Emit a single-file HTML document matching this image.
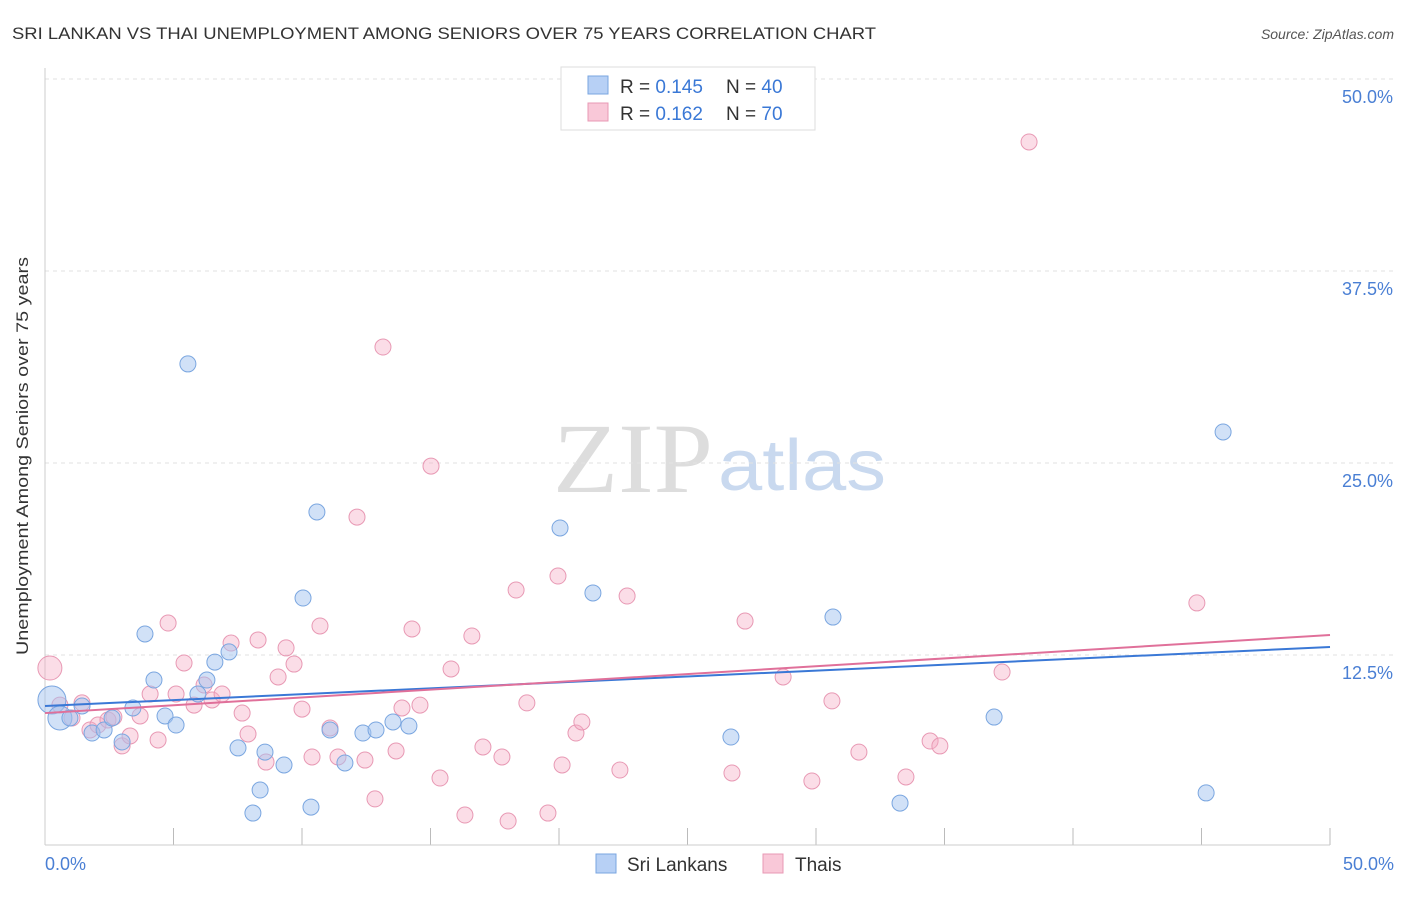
<!DOCTYPE html>
<html><head><meta charset="utf-8"><style>
body{margin:0;background:#fff;font-family:"Liberation Sans",sans-serif;}
</style></head><body>
<svg width="1406" height="892" xmlns="http://www.w3.org/2000/svg">
<text x="12" y="39" font-size="17" fill="#333" textLength="864" lengthAdjust="spacingAndGlyphs">SRI LANKAN VS THAI UNEMPLOYMENT AMONG SENIORS OVER 75 YEARS CORRELATION CHART</text>
<text x="1394" y="39" font-size="14" fill="#555" font-style="italic" text-anchor="end">Source: ZipAtlas.com</text>
<text x="553" y="492" font-size="100" fill="#ddd" font-family="Liberation Serif,serif" textLength="160" lengthAdjust="spacingAndGlyphs">ZIP</text>
<text x="718" y="490" font-size="72" fill="#c9d9ef" textLength="168" lengthAdjust="spacingAndGlyphs">atlas</text>
<g id="grid"></g>
<line x1="45" y1="68" x2="45" y2="845" stroke="#ccc"/>
<line x1="45" y1="845" x2="1330" y2="845" stroke="#ccc"/>
<text x="28" y="456" font-size="17" fill="#333" text-anchor="middle" textLength="398" lengthAdjust="spacingAndGlyphs" transform="rotate(-90 28 456)">Unemployment Among Seniors over 75 years</text>
<text x="45" y="870" font-size="18" fill="#4a7fd4">0.0%</text>
<text x="1394" y="870" font-size="18" fill="#4a7fd4" text-anchor="end">50.0%</text>
<g id="points"></g>
<g id="lines"></g>
<g>
<rect x="561" y="67" width="254" height="63" fill="#fff" stroke="#ddd"/>
<rect x="588" y="76" width="20" height="18" fill="#b7d0f5" stroke="#7aa6e0"/>
<text x="620" y="93" font-size="19" fill="#333">R = <tspan fill="#3a78d6">0.145</tspan></text>
<text x="726" y="93" font-size="19" fill="#333">N = <tspan fill="#3a78d6">40</tspan></text>
<rect x="588" y="103" width="20" height="18" fill="#f9c8d8" stroke="#e899b4"/>
<text x="620" y="120" font-size="19" fill="#333">R = <tspan fill="#3a78d6">0.162</tspan></text>
<text x="726" y="120" font-size="19" fill="#333">N = <tspan fill="#3a78d6">70</tspan></text>
</g>
<g>
<rect x="596" y="854" width="20" height="19" fill="#b7d0f5" stroke="#7aa6e0"/>
<text x="627" y="871" font-size="19" fill="#333">Sri Lankans</text>
<rect x="763" y="854" width="20" height="19" fill="#f9c8d8" stroke="#e899b4"/>
<text x="795" y="871" font-size="19" fill="#333">Thais</text>
</g>
</svg>
<script>
const yTicks=[12.5,25,37.5,50];
const yTickLabels=["12.5%","25.0%","37.5%","50.0%"];
const blueX=[0.27,0.58,0.97,1.44,1.83,2.30,2.61,3.00,3.42,3.89,4.24,4.67,5.10,5.56,5.95,6.30,6.61,7.16,7.51,8.09,8.37,8.56,9.30,10.35,10.04,10.58,11.09,11.67,12.37,12.88,13.54,14.16,20.04,21.32,26.69,30.66,33.27,36.93,45.18,45.84];
const blueY=[9.57,8.40,8.40,9.18,7.42,7.62,8.40,6.84,9.05,13.87,10.87,8.53,7.94,31.45,9.96,10.87,12.04,12.70,6.45,2.21,3.71,6.18,5.34,2.60,16.21,21.81,7.62,5.47,7.42,7.62,8.14,7.88,20.77,16.54,7.16,14.97,2.86,8.46,3.52,27.02];
const pinkX=[0.19,0.58,1.05,1.44,1.75,2.06,2.45,2.68,3.00,3.31,3.70,4.09,4.40,4.79,5.10,5.41,5.80,6.19,6.50,6.89,7.24,7.67,7.90,8.29,8.60,9.07,9.38,9.69,10.00,10.39,10.70,11.09,11.40,12.14,12.45,12.84,13.15,13.66,13.89,14.28,14.59,15.02,15.37,15.80,16.34,16.61,17.04,17.78,18.02,18.33,18.75,19.57,19.96,20.12,20.66,20.89,22.37,22.65,26.73,27.24,28.72,29.84,30.62,31.67,33.50,34.44,34.82,37.24,38.29,44.82];
const pinkY=[11.65,9.24,8.40,9.38,7.62,7.94,8.27,8.46,6.58,7.23,8.53,9.96,6.97,14.58,9.96,11.98,9.24,10.55,9.57,9.96,13.28,8.72,7.36,13.48,5.53,11.07,12.96,11.91,8.98,5.86,14.39,7.75,5.86,21.48,5.66,3.13,32.55,6.25,9.05,14.19,9.24,24.80,4.49,11.59,2.08,13.74,6.51,5.86,1.69,16.73,9.38,2.21,17.64,5.34,7.42,8.14,5.01,16.34,4.82,14.71,11.07,4.30,9.51,6.18,4.56,6.90,6.58,11.39,45.90,15.89];
const blueTrend=[9.18,13.02];
const pinkTrend=[8.72,13.80];
const NS="http://www.w3.org/2000/svg";
const sx=v=>45+v*25.7, sy=v=>847-v*15.36;
const grid=document.getElementById('grid');
yTicks.forEach((t,i)=>{
 const l=document.createElementNS(NS,'line');
 l.setAttribute('x1',45);l.setAttribute('x2',1394);l.setAttribute('y1',sy(t));l.setAttribute('y2',sy(t));
 l.setAttribute('stroke','#e2e2e2');l.setAttribute('stroke-dasharray','4 4');
 
 
 grid.appendChild(l);
 const tx=document.createElementNS(NS,'text');
 tx.setAttribute('x',1393);tx.setAttribute('y',sy(t)+24);tx.setAttribute('font-size','18');tx.setAttribute('fill','#4a7fd4');tx.setAttribute('text-anchor','end');
 tx.textContent=yTickLabels[i];
 
 
 grid.appendChild(tx);
});
for(let i=0;i<=10;i++){
 const l=document.createElementNS(NS,'line');
 const x=sx(i*5);
 l.setAttribute('x1',x);l.setAttribute('x2',x);l.setAttribute('y1',828);l.setAttribute('y2',845);l.setAttribute('stroke','#bbb');
 
 
 grid.appendChild(l);
}
const pts=document.getElementById('points');
function dot(x,y,r,fill,stroke,name){
 const c=document.createElementNS(NS,'circle');
 c.setAttribute('cx',sx(x));c.setAttribute('cy',sy(y));c.setAttribute('r',r);
 c.setAttribute('fill',fill);c.setAttribute('stroke',stroke);c.setAttribute('stroke-width','1');
 
 
 pts.appendChild(c);
}
pinkX.forEach((x,i)=>dot(x,pinkY[i],i===0?12:8,'rgba(245,170,195,0.4)','#e899b4','thai-point'));
blueX.forEach((x,i)=>dot(x,blueY[i],i===0?14:(i===1?12:8),'rgba(164,196,240,0.5)','#7aa6e0','sri-lankan-point'));
const ln=document.getElementById('lines');
[[blueTrend,'#3a78d6','sri-lankan-trendline'],[pinkTrend,'#e0709a','thai-trendline']].forEach(([t,c,n])=>{
 const l=document.createElementNS(NS,'line');
 l.setAttribute('x1',sx(0));l.setAttribute('x2',sx(50));l.setAttribute('y1',sy(t[0]));l.setAttribute('y2',sy(t[1]));
 l.setAttribute('stroke',c);l.setAttribute('stroke-width','2');
 
 
 ln.appendChild(l);
});
</script>
</body></html>
